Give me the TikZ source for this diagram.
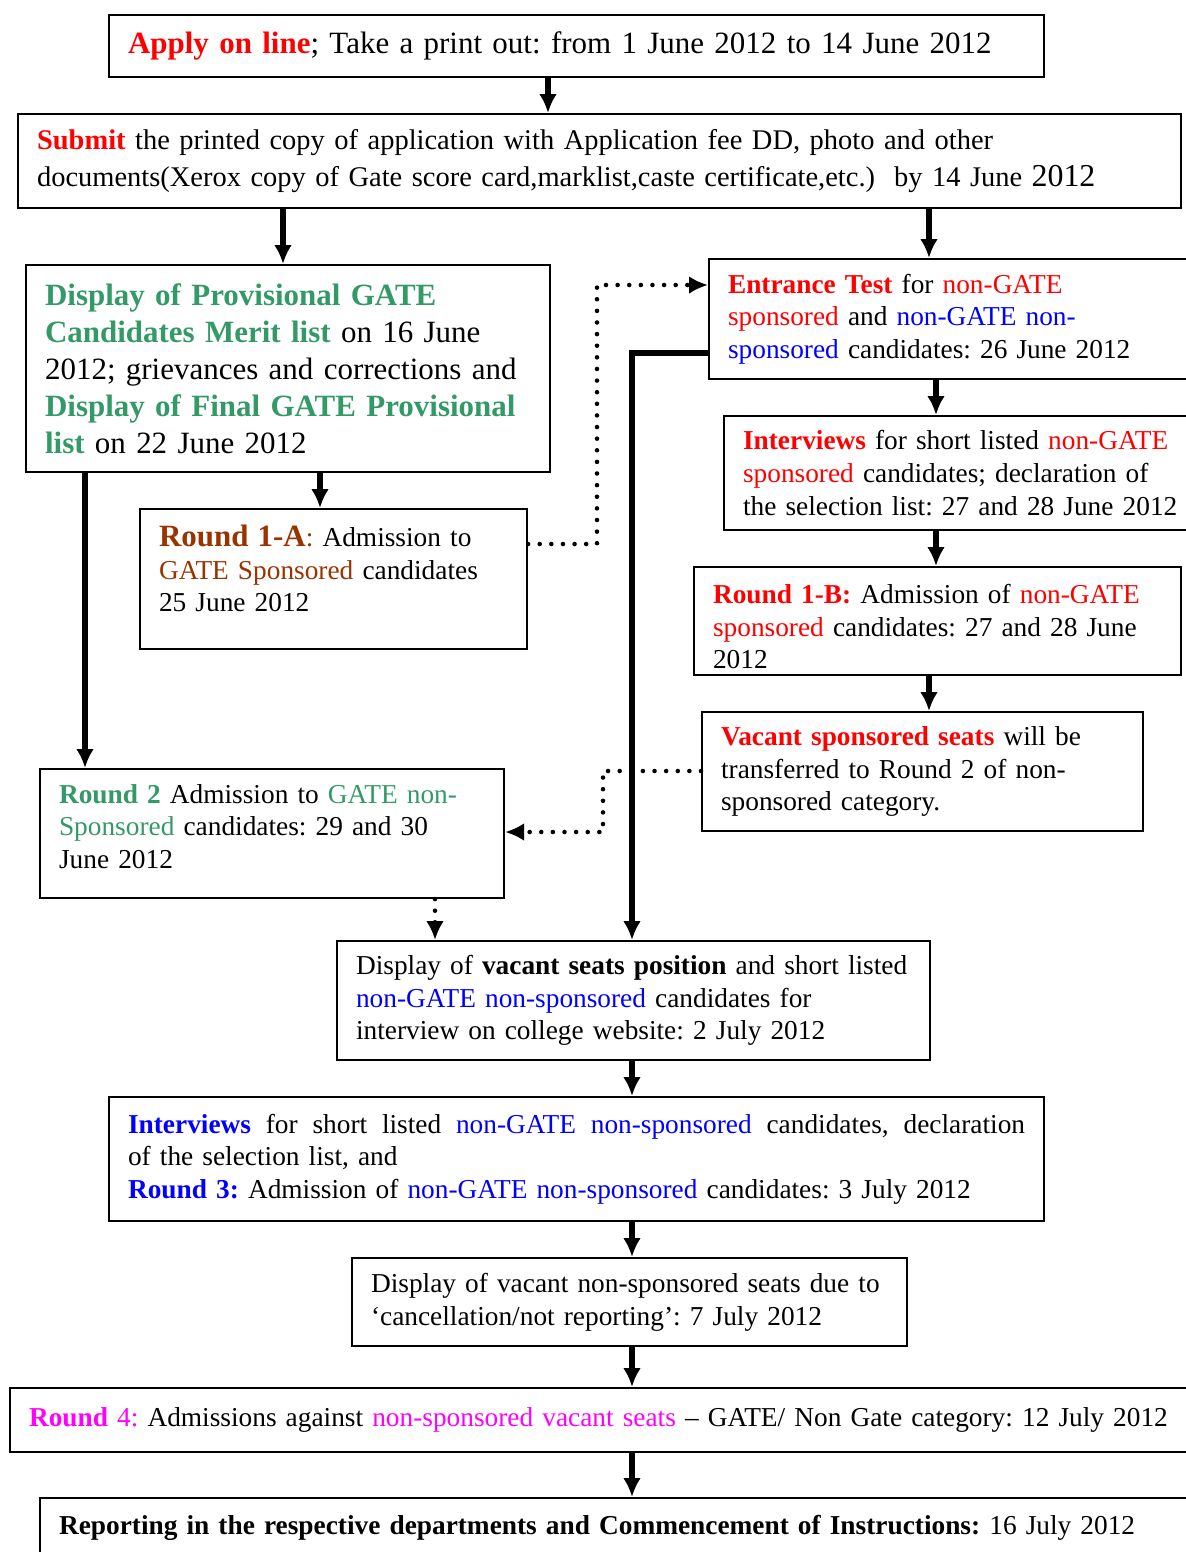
\documentclass[tikz,border=0pt]{standalone}
\usepackage{fontspec}
\setmainfont{Liberation Serif}
\usepackage{tikz}
\usetikzlibrary{calc, arrows.meta, positioning}
\definecolor{adred}{RGB}{255,0,0}
\definecolor{adgreen}{RGB}{51,153,102}
\definecolor{adbrown}{RGB}{153,51,0}
\definecolor{adblue}{RGB}{0,0,255}
\definecolor{adpink}{RGB}{255,0,255}
\newcommand\pxu{0.439pt}
\newcommand\rd[1]{\textcolor{adred}{#1}}
\newcommand\gr[1]{\textcolor{adgreen}{#1}}
\newcommand\br[1]{\textcolor{adbrown}{#1}}
\newcommand\bl[1]{\textcolor{adblue}{#1}}
\newcommand\pk[1]{\textcolor{adpink}{#1}}
\tikzset{
stage/.style={draw, line width=0.9pt, anchor=north west, align=left, inner xsep=8.35pt, inner ysep=1pt, font=\fontsize{12}{14.3}\selectfont\frenchspacing},
big/.style={font=\fontsize{13.6}{16.2}\selectfont\frenchspacing},
box/.style 2 args={minimum width={#1*\pxu}, minimum height={#2*\pxu}, text width={(#1-38)*\pxu}},
flow/.style={->, line width=2.3pt},
dots/.style={->, line width=2pt, line cap=round, dash pattern=on 0pt off 5.1pt}
}

\begin{document}
\begin{tikzpicture}[>={Latex[length=8.3pt,width=7.8pt]}, x=\pxu, y=-\pxu]
\useasboundingbox (0,0) rectangle (1185,1552);
\node (apply) at (108,14) [stage, big, box={935}{62}]{\textbf{\rd{Apply on line}}; Take a print out: from 1 June 2012 to 14 June 2012};
\node (submit) at (17,113) [stage, box={1163}{94}, font=\fontsize{12.5}{16.2}\selectfont]{\textbf{\rd{Submit}} the printed copy of application with Application fee DD, photo and other\\documents(Xerox copy of Gate score card,marklist,caste certificate,etc.)\ \ by 14 June {\fontsize{14}{16.2}\selectfont 2012}};
\node (gate) at (25,264) [stage, big, box={524}{207}]{\textbf{\gr{Display of Provisional GATE}}\\\textbf{\gr{Candidates Merit list}} on 16 June\\2012; grievances and corrections and\\\textbf{\gr{Display of Final GATE Provisional}}\\\textbf{\gr{list}} on 22 June 2012};
\node (roundA) at (139,508) [stage, box={387}{140}]{{\fontsize{13.6}{14.3}\selectfont\textbf{\br{Round 1-A}}}\br{:} Admission to\\\br{GATE Sponsored} candidates\\25 June 2012\\[-5pt]\mbox{}};
\node (entrance) at (708,258) [stage, box={500}{120}]{\textbf{\rd{Entrance Test}} for \rd{non-GATE}\\\rd{sponsored} and \bl{non-GATE non-}\\\bl{sponsored} candidates: 26 June 2012};
\node (interA) at (723,415) [stage, box={490}{114}]{\textbf{\rd{Interviews}} for short listed \rd{non-GATE}\\\rd{sponsored} candidates; declaration of\\the selection list: 27 and 28 June 2012};
\node (roundB) at (693,566) [stage, box={487}{108}]{\mbox{}\\[-1pt]\textbf{\rd{Round 1-B:}} Admission of \rd{non-GATE}\\\rd{sponsored} candidates: 27 and 28 June\\2012};
\node (vacant) at (701,711) [stage, box={441}{119}]{\textbf{\rd{Vacant sponsored seats}} will be\\transferred to Round 2 of non-\\sponsored category.};
\node (roundT) at (39,768) [stage, box={464}{129}]{\textbf{\gr{Round 2}} Admission to \gr{GATE non-}\\\gr{Sponsored} candidates: 29 and 30\\June 2012\\[-8pt]\mbox{}};
\node (display) at (336,940) [stage, box={593}{119}]{Display of \textbf{vacant seats position} and short listed\\\bl{non-GATE non-sponsored} candidates for\\interview on college website: 2 July 2012};
\node (interB) at (108,1096) [stage, box={935}{124}]{\textbf{\bl{Interviews}}\hfill for\hfill short\hfill listed\hfill \bl{non-GATE}\hfill \bl{non-sponsored}\hfill candidates,\hfill declaration\\of the selection list, and\\\textbf{\bl{Round 3:}} Admission of \bl{non-GATE non-sponsored} candidates: 3 July 2012};
\node (nonsp) at (351,1257) [stage, box={555}{88}]{Display of vacant non-sponsored seats due to\\`cancellation/not reporting': 7 July 2012};
\node (roundF) at (9,1387) [stage, box={1210}{64}]{\textbf{\pk{Round}} \pk{4:} Admissions against \pk{non-sponsored vacant seats} -- GATE/ Non Gate category: 12 July 2012};
\node (report) at (39,1497) [stage, box={1161}{60}]{\textbf{Reporting in the respective departments and Commencement of Instructions:} 16 July 2012};

\coordinate (colA) at (548,0);
\coordinate (colB) at (283,0);
\coordinate (colC) at (929,0);
\coordinate (colD) at (320,0);
\coordinate (colE) at (85,0);
\coordinate (colF) at (936,0);
\coordinate (colG) at (632,0);
\coordinate (colH) at (435,0);
\coordinate (turnA) at (597,544);
\coordinate (turnB) at (597,285);
\coordinate (turnC) at (603,771);
\coordinate (turnD) at (603,832);
\coordinate (turnE) at (632,353);

\draw[flow] (apply.south -| colA) -- (submit.north -| colA);
\draw[flow] (submit.south -| colB) -- (gate.north -| colB);
\draw[flow] (submit.south -| colC) -- (entrance.north -| colC);
\draw[flow] (gate.south -| colD) -- (roundA.north -| colD);
\draw[flow] (gate.south -| colE) -- (roundT.north -| colE);
\draw[flow] (entrance.south -| colF) -- (interA.north -| colF);
\draw[flow] (interA.south -| colF) -- (roundB.north -| colF);
\draw[flow] (roundB.south -| colC) -- (vacant.north -| colC);
\draw[flow] (turnE -| entrance.west) -- (turnE) -- (display.north -| turnE);
\draw[flow] (display.south -| colG) -- (interB.north -| colG);
\draw[flow] (interB.south -| colG) -- (nonsp.north -| colG);
\draw[flow] (nonsp.south -| colG) -- (roundF.north -| colG);
\draw[flow] (roundF.south -| colG) -- (report.north -| colG);
\draw[dots] (turnA -| roundA.east) -- (turnA) -- (turnB) -- (turnB -| entrance.west);
\draw[dots] (turnC -| vacant.west) -- (turnC) -- (turnD) -- (turnD -| roundT.east);
\draw[dots] (roundT.south -| colH) -- (display.north -| colH);
\end{tikzpicture}
\end{document}
